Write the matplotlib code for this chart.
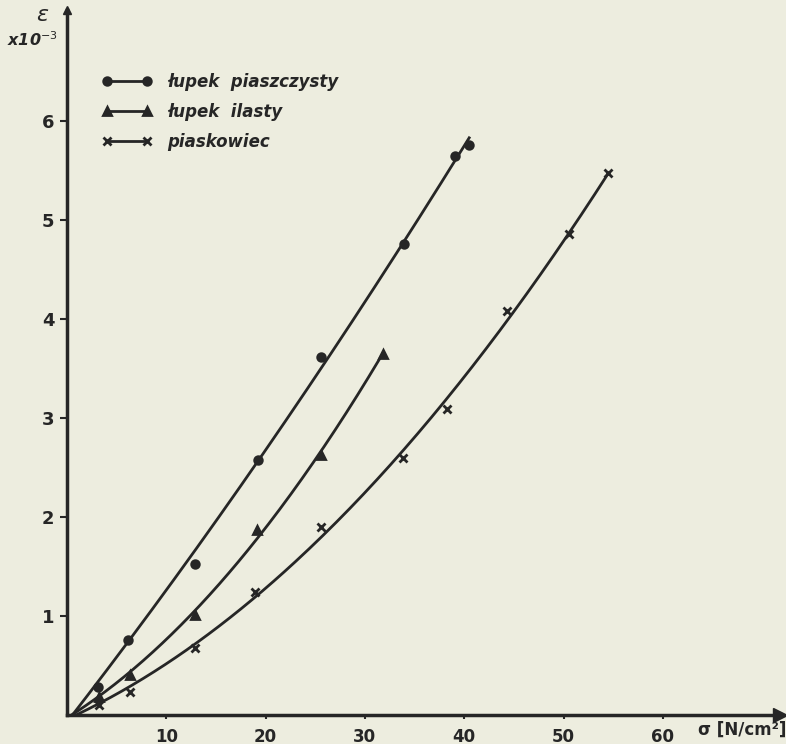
import numpy as np
import matplotlib
matplotlib.use('Agg')
import matplotlib.pyplot as plt

##############################################################################
# Data
##############################################################################
sig_piasz = [3.1, 6.1, 12.9, 19.2, 25.6, 33.9, 39.1, 40.5]
eps_piasz = [0.28, 0.76, 1.52, 2.58, 3.62, 4.76, 5.65, 5.76]

sig_ilas = [3.2, 6.3, 12.9, 19.1, 25.6, 31.8]
eps_ilas = [0.18, 0.40, 1.01, 1.87, 2.63, 3.65]

sig_piask = [3.2, 6.3, 12.9, 18.9, 25.6, 33.8, 38.3, 44.3, 50.6, 54.5]
eps_piask = [0.10, 0.23, 0.68, 1.24, 1.90, 2.60, 3.09, 4.08, 4.86, 5.47]

labels = ['łupek  piaszczysty', 'łupek  ilasty', 'piaskowiec']
xticks = [10, 20, 30, 40, 50, 60]
yticks = [1, 2, 3, 4, 5, 6]

##############################################################################
# Aesthetics
##############################################################################
(WIDTH, HEIGHT, DPI) = (786, 744, 100)
PAPER = '#ededdf'
INK = '#262626'
plt.rcParams['font.family'] = ['DejaVu Sans']

fig = plt.figure(figsize=(WIDTH / DPI, HEIGHT / DPI), dpi=DPI, facecolor=PAPER)
ax = fig.add_axes([67 / WIDTH, 29 / HEIGHT, 713 / WIDTH, 705 / HEIGHT])
ax.set_facecolor(PAPER)
ax.set_xlim(0, 71.8)
ax.set_ylim(0, 7.12)

# Curves: smooth fit through origin + points, markers at measured points -----
series = [
    (sig_piasz, eps_piasz, 'o', 5.5),
    (sig_ilas, eps_ilas, '^', 6),
    (sig_piask, eps_piask, 'x', 5.5),
]
handles = []
for (sx, sy, mk, ms) in series:
    xs = np.r_[0, sx]
    ys = np.r_[0, sy]
    p = np.polyfit(xs, ys, 2)
    xx = np.linspace(0, sx[-1], 200)
    ax.plot(xx, np.polyval(p, xx), color=INK, lw=2)
    ax.plot(sx, sy, ls='none', marker=mk, ms=ms, color=INK, mew=2)
    (h,) = ax.plot([], [], color=INK, lw=2, marker=mk, ms=ms, mew=2)
    handles.append(h)

leg = ax.legend(
    handles, labels, loc='upper left', bbox_to_anchor=(95 / WIDTH, 1 - 66 / HEIGHT),
    bbox_transform=fig.transFigure, frameon=False, numpoints=2,
    handlelength=3.0, handletextpad=0.9, labelspacing=0.72, borderaxespad=0,
    prop={'size': 12, 'weight': 'bold', 'style': 'italic'}
)
for t in leg.get_texts():
    t.set_color(INK)

# Axes ----------------------------------------------------------------------
for s in ['top', 'right']:
    ax.spines[s].set_visible(False)
for s in ['left', 'bottom']:
    ax.spines[s].set_linewidth(2.5)
    ax.spines[s].set_color(INK)
ax.plot(1, 0, '>', ms=10, color=INK, transform=ax.transAxes, clip_on=False)
ax.plot(0, 1, '^', ms=6, color=INK, transform=ax.transAxes, clip_on=False)

ax.set_xticks(xticks)
ax.set_yticks(yticks)
ax.tick_params(axis='x', length=3, width=1.5, color=INK, pad=6,
               labelsize=12, labelcolor=INK)
ax.tick_params(axis='y', length=5, width=1.5, color=INK, pad=4,
               labelsize=13, labelcolor=INK)
for lab in ax.get_xticklabels() + ax.get_yticklabels():
    lab.set_fontweight('bold')

fig.text(42 / WIDTH, 1 - 15 / HEIGHT, 'ε', fontsize=16, style='italic',
         color=INK, ha='center', va='center')
fig.text(32 / WIDTH, 1 - 40 / HEIGHT, r'x10$^{-3}$', fontsize=11.5,
         style='italic', weight='bold', color=INK, ha='center', va='center')
fig.text(742 / WIDTH, 1 - 730 / HEIGHT, 'σ [N/cm²]', fontsize=12,
         weight='bold', color=INK, ha='center', va='center')

fig.savefig('out.png', dpi=DPI, facecolor=PAPER)
